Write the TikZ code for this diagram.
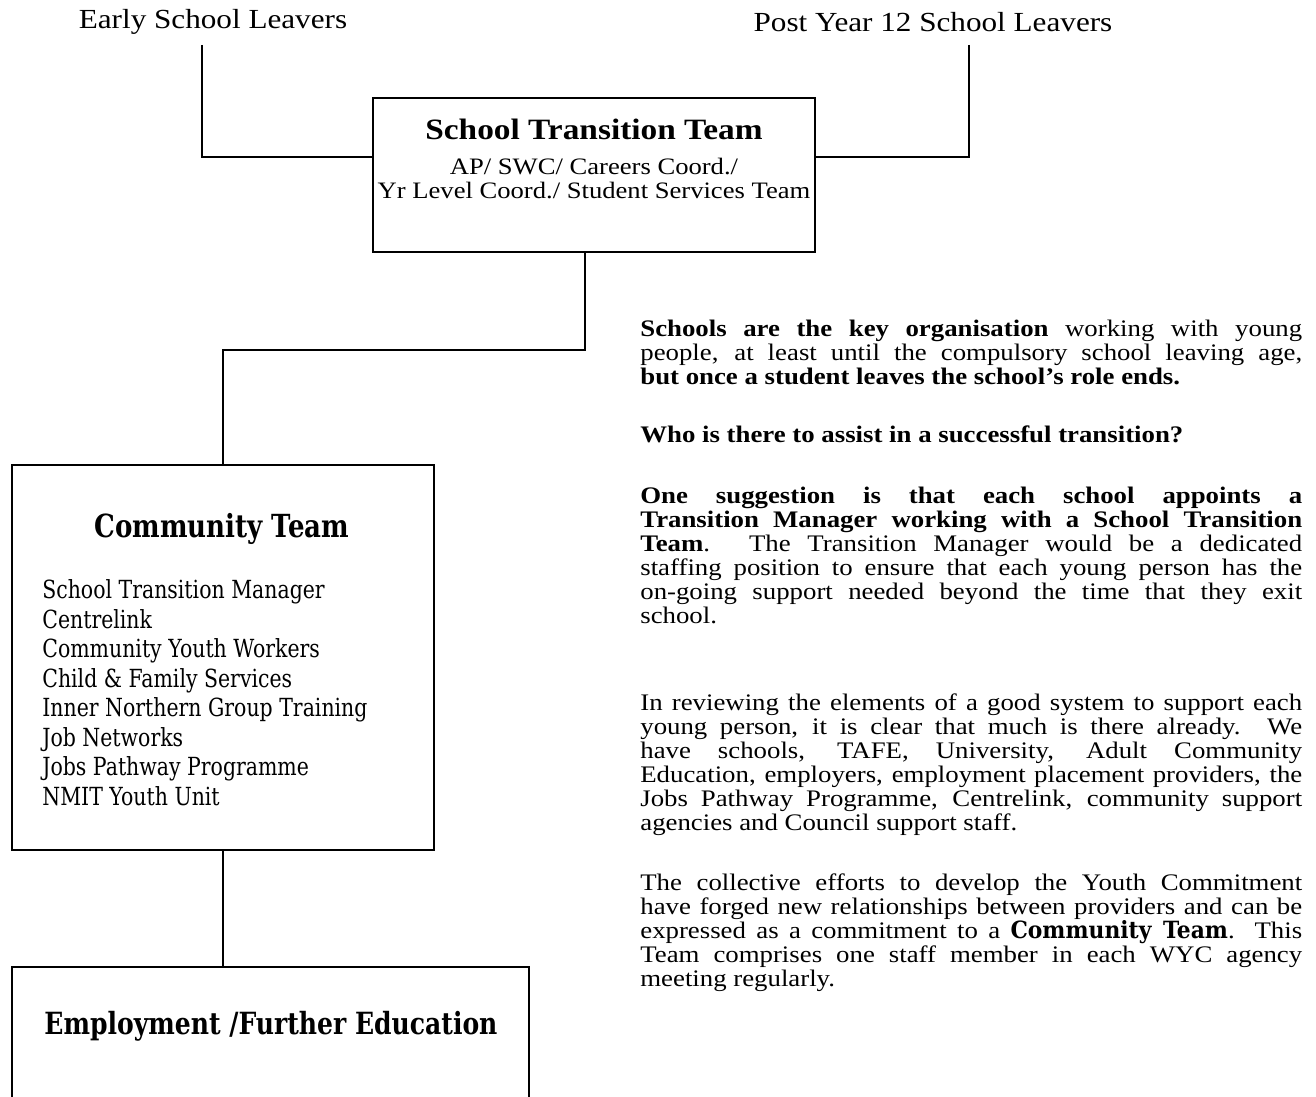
\documentclass[tikz,border=0pt]{standalone}
\usepackage{fontspec}
\setmainfont{Liberation Serif}[FakeStretch=1.13]
\newfontfamily\schfont{DejaVu Serif}[FakeStretch=0.82]
\newfontfamily\schwide{DejaVu Serif}[FakeStretch=0.92]
\newcommand{\tightlines}{\setlength{\lineskiplimit}{-20pt}\setlength{\baselineskip}{13.66pt}}
\newcommand{\schbold}[1]{{\schwide\bfseries\fontsize{13.5}{13.66}\selectfont #1}}
\begin{document}
\begin{tikzpicture}[
    x=0.02cm, y=-0.02cm,
    font=\fontsize{13.5}{13.66}\selectfont,
    box/.style={draw=black, line width=0.9pt, inner sep=0pt},
    leaver/.style={font=\fontsize{15.7}{16}\selectfont, inner sep=0pt},
    boxtitle/.style={font=\fontsize{16.8}{16}\selectfont\bfseries, inner sep=0pt},
    ctitle/.style={font=\schfont\fontsize{18.1}{16}\selectfont\bfseries, inner sep=0pt},
    sttline/.style={anchor=base, inner sep=0pt, font=\fontsize{13.4}{13.66}\selectfont},
    member/.style={font=\schfont\fontsize{14.2}{16.8}\selectfont, anchor=base west, inner sep=0pt},
    para/.style={text width=13.24cm, align=justify, anchor=base west, inner sep=0pt},
    link/.style={draw=black, line width=0.9pt},
  ]
  \clip (0,0) rectangle (1316,1097);
  % leavers (top row)
  \node[leaver] (esl) at (213,22) {Early School Leavers};
  \node[leaver] (pyl) at (933,22) {Post Year 12 School Leavers};
  \coordinate (eslEnd) at (202,45);
  \coordinate (pylEnd) at (969,45);
  % boxes
  \node[box, minimum width=8.84cm, minimum height=3.08cm] (stt) at (594,175) {};
  \node[boxtitle] (sttT) at (594,129) {School Transition Team};
  \node[sttline] (sttA) at (594,175) {AP/ SWC/ Careers Coord./};
  \node[sttline] (sttB) at (594,199) {Yr Level Coord./ Student Services Team};
  \node[box, minimum width=8.44cm, minimum height=7.7cm] (ct) at (223,657.5) {};
  \node[ctitle] (ctT) at (222,529) {Community Team};
  \foreach \item [count=\i from 0] in {School Transition Manager, Centrelink,
      Community Youth Workers, Child \& Family Services, Inner Northern Group Training,
      Job Networks, Jobs Pathway Programme, NMIT Youth Unit}
    \node[member] (m\i) at (42,599+29.5*\i) {\item};
  \node[box, minimum width=10.34cm, minimum height=3.26cm] (emp) at (270.5,1048.5) {};
  \node[ctitle, font=\schfont\fontsize{17.4}{16}\selectfont\bfseries] (empT) at (271,1026) {Employment /Further Education};
  % connectors
  \coordinate (ctBend) at (223,350);
  \draw[link] (eslEnd) |- ([yshift=0.36cm]stt.west);
  \draw[link] (pylEnd) |- ([yshift=0.36cm]stt.east);
  \draw[link] ([xshift=-0.18cm]stt.south) |- (ctBend) -- (ct.north);
  \draw[link] (ct.south) -- (ct.south |- emp.north);
  % text column
  \node[para] (p1) at (640,337) {\tightlines\textbf{Schools are the key organisation} working with young\linebreak
    people, at least until the compulsory school leaving age,\linebreak
    \textbf{but once a student leaves the school’s role ends.}\par};
  \node[para] (p2) at (640,443) {\tightlines\textbf{Who is there to assist in a successful transition?}\par};
  \node[para] (p3) at (640,504) {\tightlines\textbf{One suggestion is that each school appoints a\linebreak
    Transition Manager working with a School Transition\linebreak
    Team}. The Transition Manager would be a dedicated\linebreak
    staffing position to ensure that each young person has the\linebreak
    on-going support needed beyond the time that they exit\linebreak
    school.\par};
  \node[para] (p4) at (640,711) {\tightlines In reviewing the elements of a good system to support each\linebreak
    young person, it is clear that much is there already. We\linebreak
    have schools, TAFE, University, Adult Community\linebreak
    Education, employers, employment placement providers, the\linebreak
    Jobs Pathway Programme, Centrelink, community support\linebreak
    agencies and Council support staff.\par};
  \node[para] (p5) at (640,891) {\tightlines The collective efforts to develop the Youth Commitment\linebreak
    have forged new relationships between providers and can be\linebreak
    expressed as a commitment to a \schbold{Community Team}. This\linebreak
    Team comprises one staff member in each WYC agency\linebreak
    meeting regularly.\par};
\end{tikzpicture}
\end{document}
